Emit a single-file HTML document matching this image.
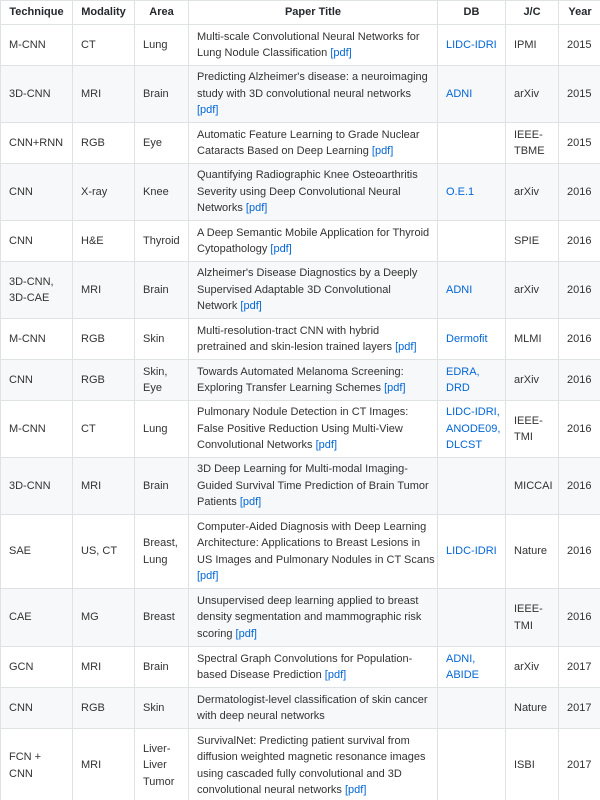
<!DOCTYPE html>
<html><head><meta charset="utf-8">
<style>
html,body{margin:0;padding:0;background:#fff;width:600px;height:800px;overflow:hidden}
table{border-collapse:collapse;table-layout:fixed;width:601px;font-family:"Liberation Sans",sans-serif;font-size:11px;color:#333;line-height:16.5px}
td,th{border:1px solid #dfe2e5;padding:0 8px;vertical-align:middle;white-space:nowrap;overflow:hidden}
th{font-weight:bold;text-align:center;color:#24292e;height:23px}
tr:nth-child(odd) td{background:#f6f8fa}
a{color:#0366d6;text-decoration:none}
</style></head><body>
<table>
<colgroup><col style="width:72px"><col style="width:62px"><col style="width:54px"><col style="width:249px"><col style="width:68px"><col style="width:53px"><col style="width:43px"></colgroup>
<tr><th>Technique</th><th>Modality</th><th>Area</th><th>Paper Title</th><th>DB</th><th>J/C</th><th>Year</th></tr>
<tr style="height:41px"><td>M-CNN</td><td>CT</td><td>Lung</td><td>Multi-scale Convolutional Neural Networks for<br>Lung Nodule Classification <a>[pdf]</a></td><td><a>LIDC-IDRI</a></td><td>IPMI</td><td>2015</td></tr>
<tr style="height:57px"><td>3D-CNN</td><td>MRI</td><td>Brain</td><td>Predicting Alzheimer's disease: a neuroimaging<br>study with 3D convolutional neural networks<br><a>[pdf]</a></td><td><a>ADNI</a></td><td>arXiv</td><td>2015</td></tr>
<tr style="height:41px"><td>CNN+RNN</td><td>RGB</td><td>Eye</td><td>Automatic Feature Learning to Grade Nuclear<br>Cataracts Based on Deep Learning <a>[pdf]</a></td><td></td><td>IEEE-<br>TBME</td><td>2015</td></tr>
<tr style="height:57px"><td>CNN</td><td>X-ray</td><td>Knee</td><td>Quantifying Radiographic Knee Osteoarthritis<br>Severity using Deep Convolutional Neural<br>Networks <a>[pdf]</a></td><td><a>O.E.1</a></td><td>arXiv</td><td>2016</td></tr>
<tr style="height:41px"><td>CNN</td><td>H&amp;E</td><td>Thyroid</td><td>A Deep Semantic Mobile Application for Thyroid<br>Cytopathology <a>[pdf]</a></td><td></td><td>SPIE</td><td>2016</td></tr>
<tr style="height:57px"><td>3D-CNN,<br>3D-CAE</td><td>MRI</td><td>Brain</td><td>Alzheimer's Disease Diagnostics by a Deeply<br>Supervised Adaptable 3D Convolutional<br>Network <a>[pdf]</a></td><td><a>ADNI</a></td><td>arXiv</td><td>2016</td></tr>
<tr style="height:41px"><td>M-CNN</td><td>RGB</td><td>Skin</td><td>Multi-resolution-tract CNN with hybrid<br>pretrained and skin-lesion trained layers <a>[pdf]</a></td><td><a>Dermofit</a></td><td>MLMI</td><td>2016</td></tr>
<tr style="height:41px"><td>CNN</td><td>RGB</td><td>Skin,<br>Eye</td><td>Towards Automated Melanoma Screening:<br>Exploring Transfer Learning Schemes <a>[pdf]</a></td><td><a>EDRA,<br>DRD</a></td><td>arXiv</td><td>2016</td></tr>
<tr style="height:57px"><td>M-CNN</td><td>CT</td><td>Lung</td><td>Pulmonary Nodule Detection in CT Images:<br>False Positive Reduction Using Multi-View<br>Convolutional Networks <a>[pdf]</a></td><td><a>LIDC-IDRI,<br>ANODE09,<br>DLCST</a></td><td>IEEE-<br>TMI</td><td>2016</td></tr>
<tr style="height:57px"><td>3D-CNN</td><td>MRI</td><td>Brain</td><td>3D Deep Learning for Multi-modal Imaging-<br>Guided Survival Time Prediction of Brain Tumor<br>Patients <a>[pdf]</a></td><td></td><td>MICCAI</td><td>2016</td></tr>
<tr style="height:74px"><td>SAE</td><td>US, CT</td><td>Breast,<br>Lung</td><td>Computer-Aided Diagnosis with Deep Learning<br>Architecture: Applications to Breast Lesions in<br>US Images and Pulmonary Nodules in CT Scans<br><a>[pdf]</a></td><td><a>LIDC-IDRI</a></td><td>Nature</td><td>2016</td></tr>
<tr style="height:58px"><td>CAE</td><td>MG</td><td>Breast</td><td>Unsupervised deep learning applied to breast<br>density segmentation and mammographic risk<br>scoring <a>[pdf]</a></td><td></td><td>IEEE-<br>TMI</td><td>2016</td></tr>
<tr style="height:41px"><td>GCN</td><td>MRI</td><td>Brain</td><td>Spectral Graph Convolutions for Population-<br>based Disease Prediction <a>[pdf]</a></td><td><a>ADNI,<br>ABIDE</a></td><td>arXiv</td><td>2017</td></tr>
<tr style="height:41px"><td>CNN</td><td>RGB</td><td>Skin</td><td>Dermatologist-level classification of skin cancer<br>with deep neural networks</td><td></td><td>Nature</td><td>2017</td></tr>
<tr style="height:74px"><td>FCN +<br>CNN</td><td>MRI</td><td>Liver-<br>Liver<br>Tumor</td><td>SurvivalNet: Predicting patient survival from<br>diffusion weighted magnetic resonance images<br>using cascaded fully convolutional and 3D<br>convolutional neural networks <a>[pdf]</a></td><td></td><td>ISBI</td><td>2017</td></tr>
</table>
</body></html>
